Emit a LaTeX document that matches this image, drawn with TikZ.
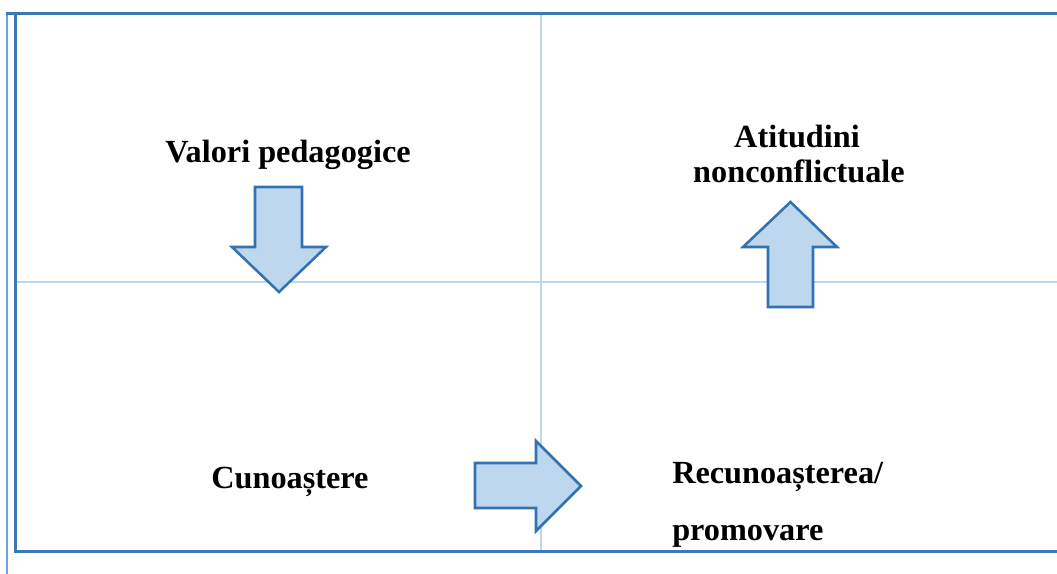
\documentclass[tikz,border=0pt]{standalone}
\usepackage{fontspec}
\setmainfont{Liberation Serif}
\usetikzlibrary{calc}
\definecolor{framebl}{HTML}{3A78B8}
\definecolor{gridbl}{HTML}{BDD7EE}
\definecolor{arrowfill}{HTML}{BDD7EE}
\definecolor{arrowline}{HTML}{3372B2}
\definecolor{leftbl}{HTML}{6FA3DA}
\tikzset{
	lbl/.style={font=\fontsize{24.2}{29}\selectfont\bfseries, inner sep=0pt},
	blockarrow/.style={fill=arrowfill, draw=arrowline, line width=1.9pt, line join=miter},
}

\begin{document}
\begin{tikzpicture}[x=0.75pt, y=-0.75pt]
	%%%%% START %%%%%
	\useasboundingbox (0, 0) rectangle (1057, 574);
	
	% grid of the table
	\draw[gridbl, line width=1.5pt] (541, 14) -- (541, 551);
	\draw[gridbl, line width=1.5pt] (14, 282) -- (1057, 282);
	
	% outer frame
	\draw[leftbl, line width=1.5pt] (7, 14) -- (7, 574);
	\draw[framebl, line width=2.25pt] (1057, 14) -- (6, 14);
	\draw[framebl, line width=2.25pt] (15, 14) -- (15, 551) -- (1057, 551);
	
	% arrows
	\draw[blockarrow] (255, 187) -- (302, 187) -- (302, 247) -- (326, 247) -- (279, 292) -- (232, 247) -- (255, 247) -- cycle;
	\draw[blockarrow] (768, 307) -- (813, 307) -- (813, 247) -- (837, 247) -- (790.5, 202) -- (743, 247) -- (768, 247) -- cycle;
	\draw[blockarrow] (475, 463) -- (536, 463) -- (536, 441) -- (581, 486) -- (536, 531) -- (536, 508) -- (475, 508) -- cycle;
	
	% texts
	\node[lbl, anchor=base] (valori) at (288, 163) {Valori pedagogice};
	\node[lbl, anchor=base] (atit) at (797, 148) {Atitudini};
	\node[lbl, anchor=base] (noncon) at (799, 183) {nonconflictuale};
	\node[lbl, anchor=base] (cunoast) at (290, 488) {Cunoaștere};
	\node[lbl, anchor=base west] (recun) at (672, 483) {Recunoașterea/};
	\node[lbl, anchor=base west] (promov) at (672, 540) {promovare};
	%%%%% END %%%%%
\end{tikzpicture}
\end{document}
